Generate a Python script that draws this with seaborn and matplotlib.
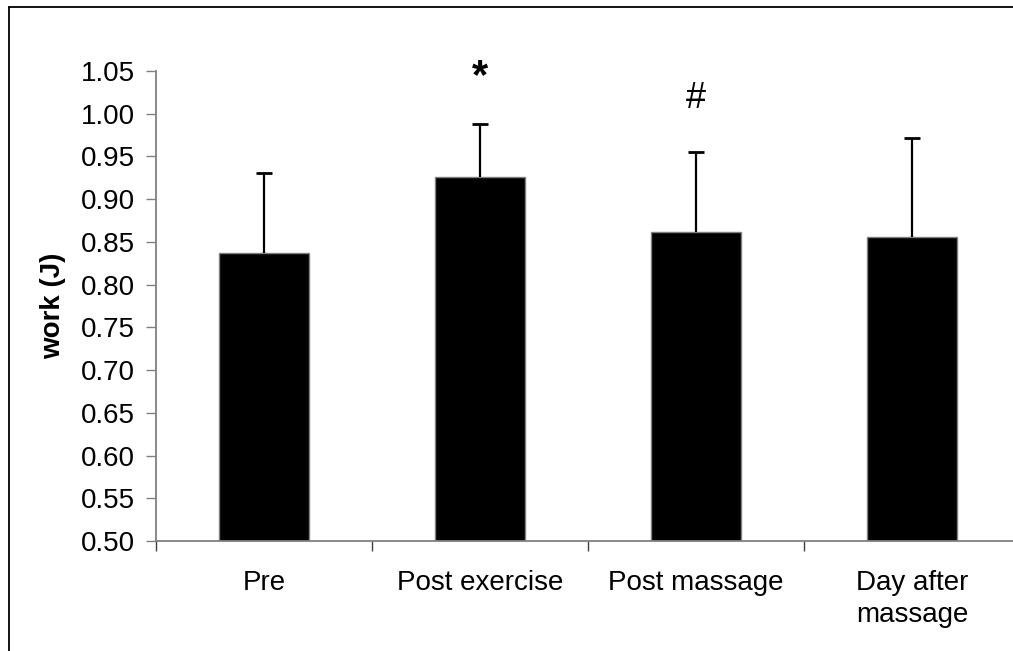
import seaborn as sns
import matplotlib.pyplot as plt
import pandas as pd
from matplotlib.lines import Line2D

# data
conditions = ['Pre', 'Post exercise', 'Post massage', 'Day after\nmassage']
work_mean = [0.837, 0.926, 0.861, 0.856]
work_sd = [0.094, 0.062, 0.094, 0.115]

df = pd.DataFrame({'condition': conditions, 'work': work_mean})

sns.set_style('white')
plt.rcParams['font.family'] = ['Liberation Sans', 'DejaVu Sans']
plt.rcParams['text.color'] = 'black'
plt.rcParams['axes.labelcolor'] = 'black'
plt.rcParams['xtick.labelcolor'] = 'black'
plt.rcParams['ytick.labelcolor'] = 'black'

fig = plt.figure(figsize=(10.13, 6.51), dpi=100)
ax = fig.add_axes([0.154, 0.169, 0.853, 0.722])

sns.barplot(data=df, x='condition', y='work', color='black', width=0.42,
            edgecolor='#808080', linewidth=1, errorbar=None, ax=ax)
for p in ax.patches:
    p.set_facecolor('black')

# upper-only error bars (hide the lower caps sitting on the bars)
eb = ax.errorbar(range(len(conditions)), work_mean, yerr=[[0] * 4, work_sd],
                 fmt='none', ecolor='black', elinewidth=1.6, capsize=6, capthick=2)
eb[1][0].set_visible(False)

# significance markers
ax.text(1, 1.043, '*', ha='center', va='center', fontsize=30, fontweight='bold',
        clip_on=False)
ax.text(2, 1.018, '#', ha='center', va='center', fontsize=26, clip_on=False)

ax.set_ylim(0.5, 1.05)
ax.set_xlim(-0.5, 3.5)
ax.set_yticks([0.50 + 0.05 * i for i in range(12)])
ax.set_yticklabels([f'{0.50 + 0.05 * i:.2f}' for i in range(12)])
ax.set_ylabel('work (J)', fontsize=20, fontweight='bold', labelpad=11)
ax.set_xlabel('')

for side in ['top', 'right']:
    ax.spines[side].set_visible(False)
for side in ['left', 'bottom']:
    ax.spines[side].set_color('#808080')
    ax.spines[side].set_linewidth(1.3)

ax.tick_params(axis='y', direction='out', length=7, width=1, color='#808080',
               labelsize=20, pad=8, left=True, labelcolor='black')
ax.tick_params(axis='x', which='major', length=0, labelsize=20, pad=21,
               labelcolor='black')
for lbl in ax.get_xticklabels():
    lbl.set_linespacing(1.3)
ax.set_xticks([-0.5, 0.5, 1.5, 2.5, 3.5], minor=True)
ax.tick_params(axis='x', which='minor', direction='out', length=7, width=1,
               color='#404040', bottom=True)

# outer frame (cut off at right and bottom in the reference)
fig.add_artist(Line2D([8.5 / 1013, 1.0], [1 - 6.5 / 651, 1 - 6.5 / 651],
                      color='black', lw=1.3, transform=fig.transFigure))
fig.add_artist(Line2D([8.5 / 1013, 8.5 / 1013], [0.0, 1 - 6.5 / 651],
                      color='black', lw=1.3, transform=fig.transFigure))

fig.savefig('out.png', dpi=100)
